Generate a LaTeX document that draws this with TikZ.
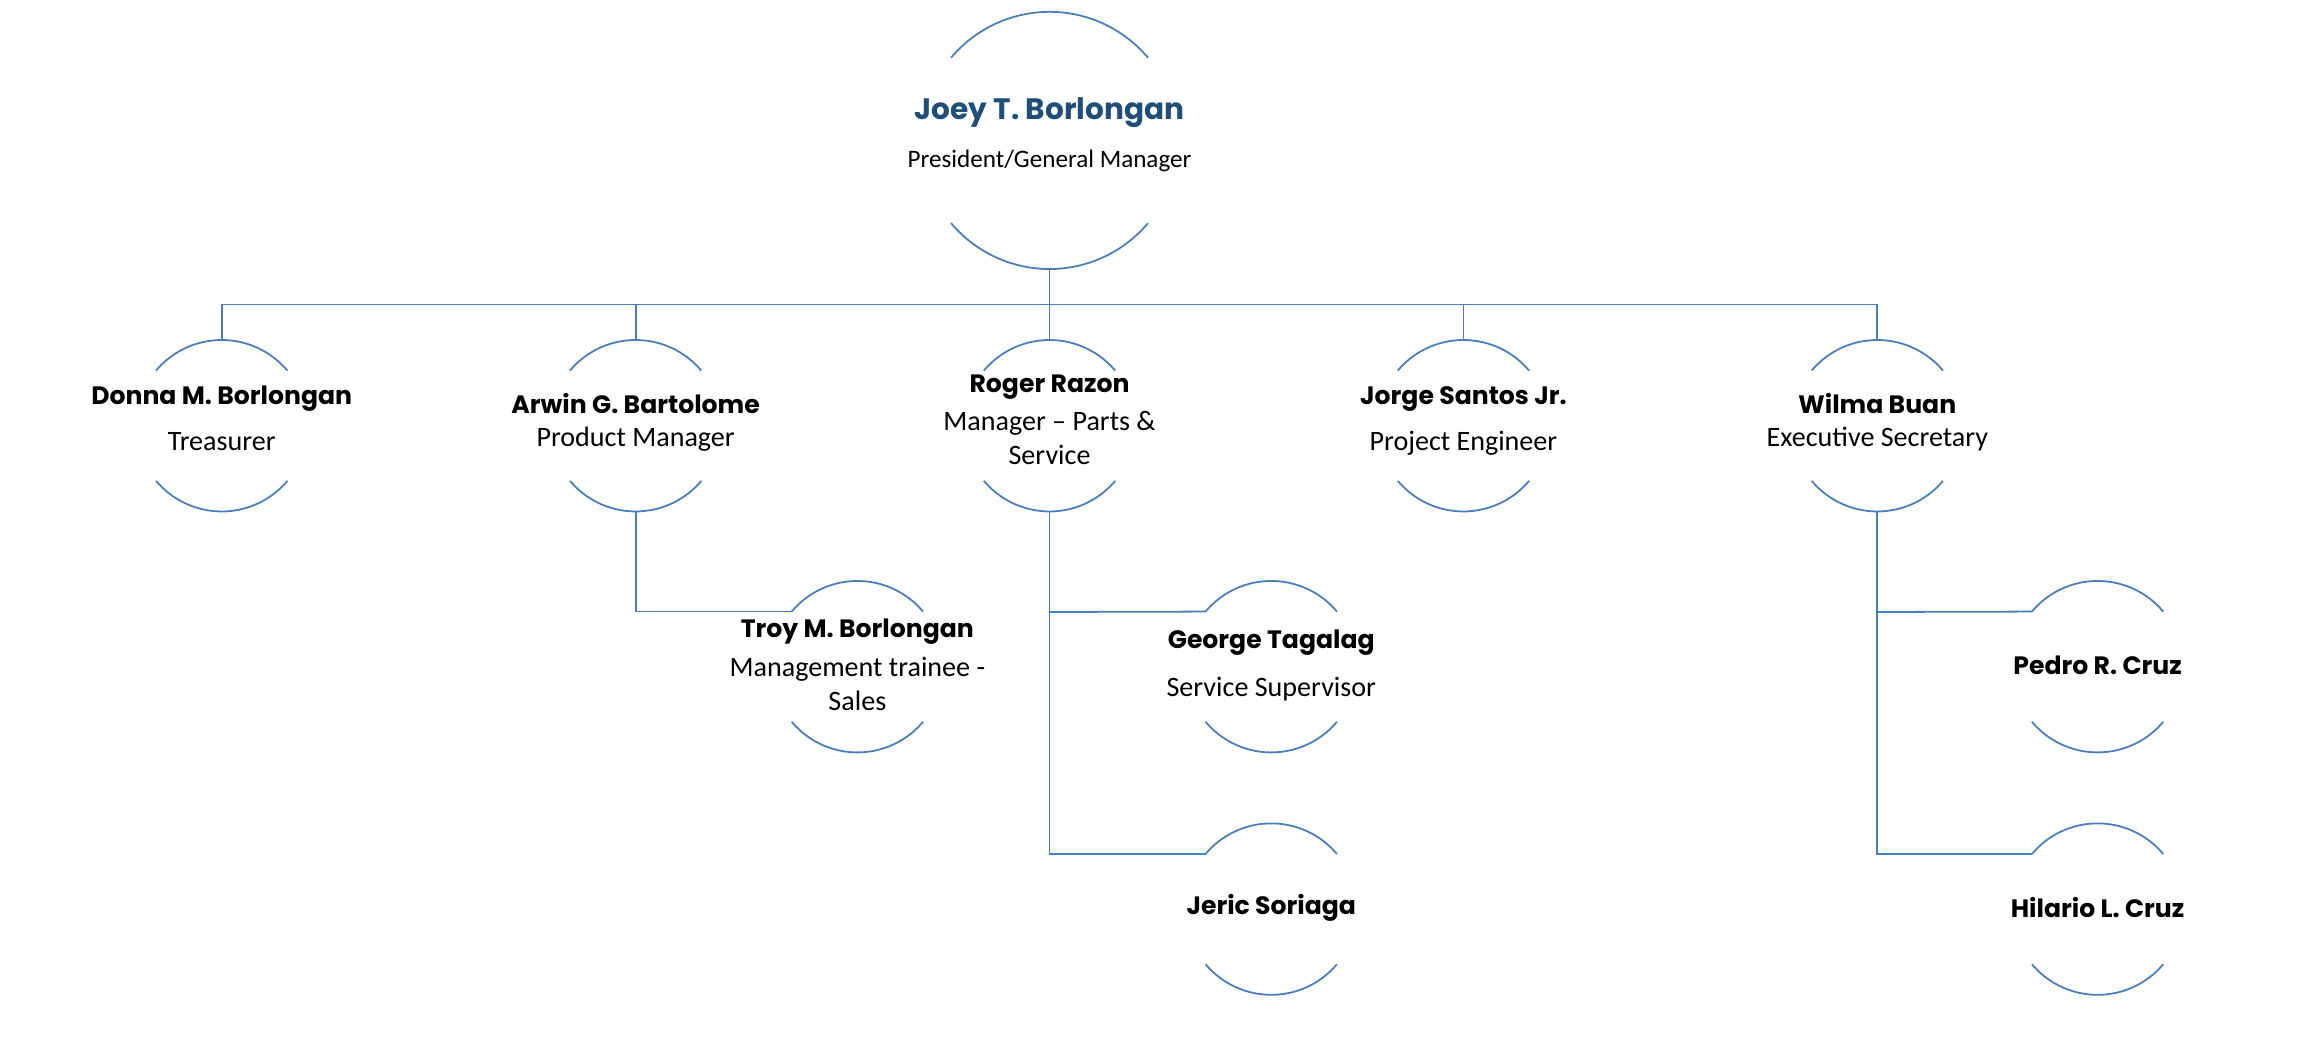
\documentclass[tikz,border=0pt]{standalone}
\usepackage{fontspec}
\setmainfont{Carlito}
\newfontfamily\namefont{Poppins}
\usetikzlibrary{calc,positioning}

\definecolor{orgblue}{HTML}{4A7EBB}
\definecolor{headblue}{HTML}{1F4E79}

\tikzset{
  orgline/.style={draw=orgblue, line width=1.2pt},
  pname/.style={font=\namefont\bfseries\fontsize{17}{20}\selectfont, inner sep=0pt},
  prole/.style={font=\fontsize{19}{23}\selectfont, align=center, inner sep=0pt}
}
% two arcs round a person, radius #2
\newcommand{\personarcs}[2]{%
  \draw[orgline] ($(#1)+(40:#2)$) arc[start angle=40, end angle=140, radius=#2];
  \draw[orgline] ($(#1)+(220:#2)$) arc[start angle=220, end angle=320, radius=#2];
}

\begin{document}
\begin{tikzpicture}[x=1pt, y=1pt]
\useasboundingbox (0,0) rectangle (1560,-707.6);

\coordinate (joey) at (710,-95);
\coordinate (donna) at (150,-288);
\coordinate (arwin) at (430,-288);
\coordinate (roger) at (710,-288);
\coordinate (jorge) at (990,-288);
\coordinate (wilma) at (1270,-288);
\coordinate (troy) at (580,-451);
\coordinate (george) at (860,-451);
\coordinate (jeric) at (860,-615);
\coordinate (pedro) at (1419,-451);
\coordinate (hilario) at (1419,-615);

\personarcs{joey}{87pt}
\foreach \p in {donna,arwin,roger,jorge,wilma,troy,george,jeric,pedro,hilario}
  {\personarcs{\p}{58pt}}

\node[pname, font=\namefont\bfseries\fontsize{20}{24}\selectfont, text=headblue] (joeyname) at (710,-76) {Joey T. Borlongan};
\node[prole, font=\fontsize{17}{21}\selectfont] (joeyrole) at (710,-109) {President/General Manager};

\node[pname] (donnaname) at (150,-270) {Donna M. Borlongan};
\node[prole] (donnarole) at (150,-299) {Treasurer};
\node[pname] (arwinname) at (430,-273) {Arwin G. Bartolome};
\node[prole] (arwinrole) at (430,-297) {Product Manager};
\node[pname] (rogername) at (710,-262) {Roger Razon};
\node[prole] (rogerrole) at (710,-296.5) {Manager -- Parts \&\\Service};
\node[pname] (jorgename) at (990,-270) {Jorge Santos Jr.};
\node[prole] (jorgerole) at (990,-300) {Project Engineer};
\node[pname] (wilmaname) at (1270,-273) {Wilma Buan};
\node[prole] (wilmarole) at (1270,-297) {Executive Secretary};
\node[pname] (troyname) at (580,-427) {Troy M. Borlongan};
\node[prole] (troyrole) at (580,-462.5) {Management trainee -\\Sales};
\node[pname] (georgename) at (860,-435) {George Tagalag};
\node[prole] (georgerole) at (860,-466) {Service Supervisor};
\node[pname] (jericname) at (860,-614) {Jeric Soriaga};
\node[pname] (pedroname) at (1419,-450) {Pedro R. Cruz};
\node[pname] (hilarioname) at (1419,-614) {Hilario L. Cruz};

% connectors
\draw[orgline] ($(joey)+(270:87pt)$) -- ($(roger)+(90:58pt)$);
\draw[orgline] ($(donna)+(90:58pt)$) -- ++(0,24) -| ($(wilma)+(90:58pt)$);
\foreach \p in {arwin,jorge}
  {\draw[orgline] ($(\p)+(90:58pt)$) -- ++(0,24);}
\draw[orgline] ($(arwin)+(270:58pt)$) |- ($(troy)+(140:58pt)$);
\draw[orgline] ($(roger)+(270:58pt)$) |- ($(jeric)+(140:58pt)$);
\draw[orgline] ($(roger)+(0,-126)$) -- ($(george)+(140:58pt)$);
\draw[orgline] ($(wilma)+(270:58pt)$) |- ($(hilario)+(140:58pt)$);
\draw[orgline] ($(wilma)+(0,-126)$) -- ($(pedro)+(140:58pt)$);
\end{tikzpicture}
\end{document}
